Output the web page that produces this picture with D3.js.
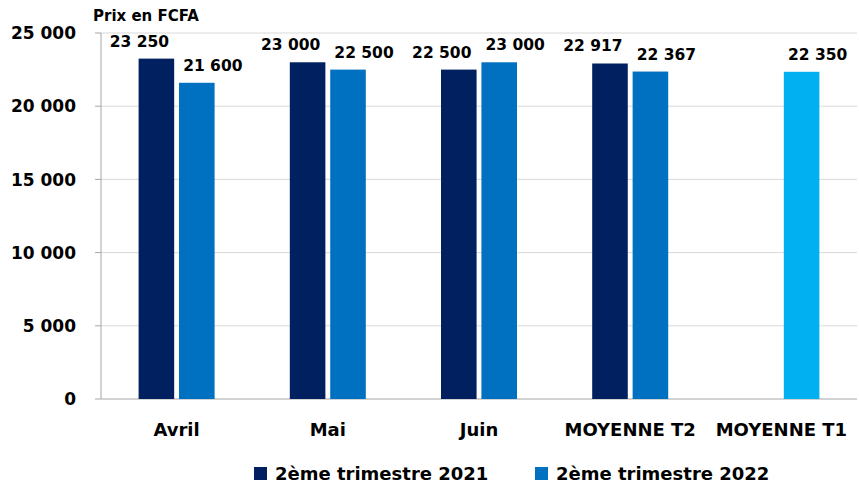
<!DOCTYPE html>
<html>
<head>
<meta charset="utf-8">
<script src="https://cdn.jsdelivr.net/npm/d3@7"></script>
<style>
  body { margin: 0; background: #fff; }
  svg text { font-family: "DejaVu Sans", "Open Sans", sans-serif; font-weight: bold; fill: #000; }
</style>
</head>
<body>
<svg id="chart" width="859" height="484"></svg>
<script>
// categories on the x axis
const categories = ['Avril', 'Mai', 'Juin', 'MOYENNE T2', 'MOYENNE T1'];
// series names
const seriesNames = ['2ème trimestre 2021', '2ème trimestre 2022'];
// values per series (null = no bar)
const values2021 = [23250, 23000, 22500, 22917, null];
const values2022 = [21600, 22500, 23000, 22367, 22350];
// y axis ticks
const yTicks = [0, 5000, 10000, 15000, 20000, 25000];

const colors = ['#002060', '#0070C0'];
const highlightColor = '#00B0F0';

const fr = d3.formatLocale({ decimal: ',', thousands: '\u00a0', grouping: [3], currency: ['', ''] });
const fmt = fr.format(',d');

const margin = { top: 33, right: 2, bottom: 85, left: 101 };
const fullWidth = 859, fullHeight = 484;
const width = fullWidth - margin.left - margin.right;
const height = fullHeight - margin.top - margin.bottom;

const svg = d3.select('#chart');
const g = svg.append('g').attr('transform', 'translate(' + margin.left + ',' + margin.top + ')');

const x = d3.scaleBand().domain(categories).range([0, width]);
const x1 = d3.scaleBand().domain([0, 1]).range([-38, 38]).paddingInner(0.12);
const y = d3.scaleLinear().domain([0, 25000]).range([height, 0]);

// gridlines
g.selectAll('line.grid')
  .data(yTicks.filter(d => d > 0))
  .enter().append('line')
  .attr('x1', 0).attr('x2', width)
  .attr('y1', d => y(d)).attr('y2', d => y(d))
  .attr('stroke', '#d9d9d9').attr('stroke-width', 1);

// y tick labels
g.selectAll('text.ytick')
  .data(yTicks)
  .enter().append('text')
  .attr('x', -25)
  .attr('y', d => y(d))
  .attr('dy', '0.36em')
  .attr('text-anchor', 'end')
  .style('font-size', '17px')
  .text(d => fmt(d));

// small tick marks
g.selectAll('line.ytk')
  .data(yTicks)
  .enter().append('line')
  .attr('x1', -6).attr('x2', 0)
  .attr('y1', d => y(d)).attr('y2', d => y(d))
  .attr('stroke', '#a6a6a6');

// axes lines
g.append('line').attr('x1', 0).attr('x2', 0).attr('y1', 0).attr('y2', height).attr('stroke', '#a6a6a6');
g.append('line').attr('x1', 0).attr('x2', width).attr('y1', height).attr('y2', height).attr('stroke', '#a6a6a6');

// bars
const seriesData = [values2021, values2022];
seriesData.forEach((vals, si) => {
  const cat = g.selectAll('.bar-s' + si)
    .data(categories.map((c, i) => ({ cat: c, v: vals[i], i: i })).filter(d => d.v != null))
    .enter();

  cat.append('rect')
    .attr('x', d => x(d.cat) + x.bandwidth() / 2 + x1(si))
    .attr('y', d => y(d.v))
    .attr('width', x1.bandwidth())
    .attr('height', d => height - y(d.v))
    .attr('fill', d => (d.cat === 'MOYENNE T1' ? highlightColor : colors[si]));

  // value labels, shifted outward as in the original
  cat.append('text')
    .attr('x', d => x(d.cat) + x.bandwidth() / 2 + x1(si) + x1.bandwidth() / 2 + (si === 0 ? -17 : 16))
    .attr('y', d => y(d.v) - 12)
    .attr('text-anchor', 'middle')
    .style('font-size', '15.5px')
    .text(d => fmt(d.v));
});

// x labels
g.selectAll('text.xlab')
  .data(categories)
  .enter().append('text')
  .attr('x', d => x(d) + x.bandwidth() / 2)
  .attr('y', height + 37)
  .attr('text-anchor', 'middle')
  .style('font-size', '18px')
  .text(d => d);

// unit label
svg.append('text')
  .attr('x', 93).attr('y', 21)
  .style('font-size', '15px')
  .text('Prix en FCFA');

// legend
const legendX = [254, 535];
seriesNames.forEach((name, i) => {
  svg.append('rect')
    .attr('x', legendX[i]).attr('y', 467)
    .attr('width', 13).attr('height', 13)
    .attr('fill', colors[i]);
  svg.append('text')
    .attr('x', legendX[i] + 21).attr('y', 474)
    .attr('dy', '0.36em')
    .style('font-size', '18px')
    .text(name);
});
</script>
</body>
</html>
